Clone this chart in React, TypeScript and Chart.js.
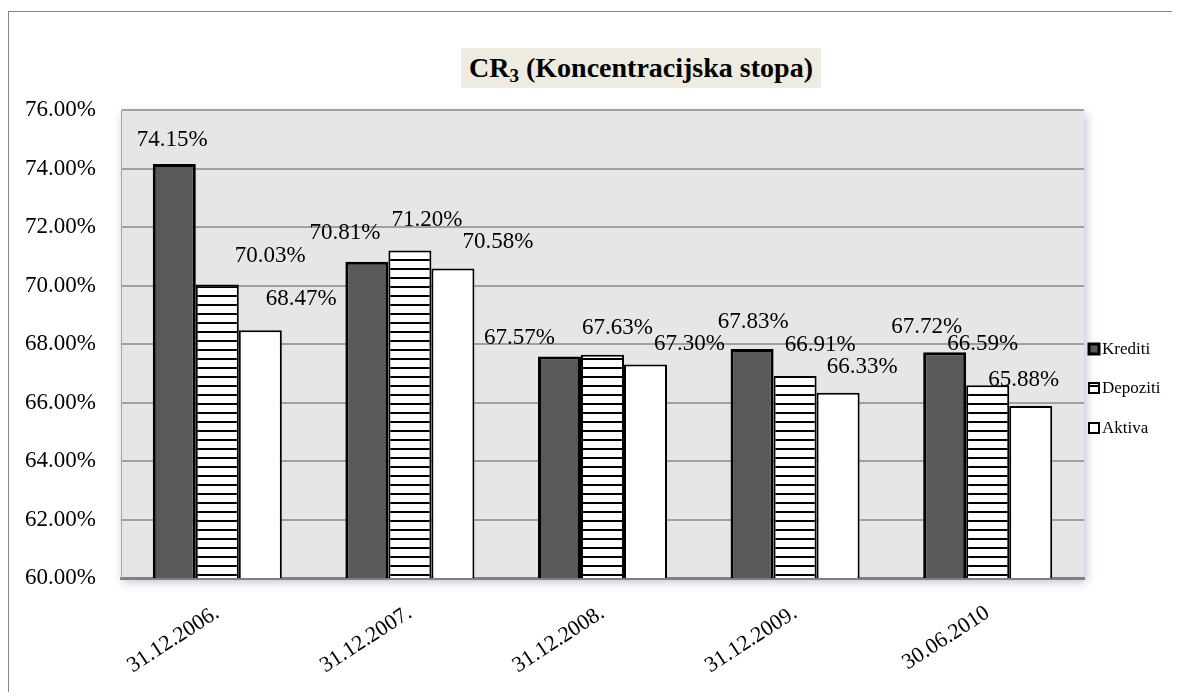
import React, { useEffect, useRef } from "react";
import { Chart, registerables } from "chart.js";

Chart.register(...registerables);

const categories = ["31.12.2006.", "31.12.2007.", "31.12.2008.", "31.12.2009.", "30.06.2010"];
const seriesNames = ["Krediti", "Depoziti", "Aktiva"];
const kreditiValues = [74.15, 70.81, 67.57, 67.83, 67.72];
const depozitiValues = [70.03, 71.2, 67.63, 66.91, 66.59];
const aktivaValues = [68.47, 70.58, 67.3, 66.33, 65.88];
const yTickValues = [60, 62, 64, 66, 68, 70, 72, 74, 76];

// label nudges (px) relative to each bar's top centre, as placed in the original
const kreditiLabelNudge = [[-2, -24], [-22, -29], [-40, -19], [1, -27], [-18, -25]];
const depozitiLabelNudge = [[53, -29], [17, -30], [15, -27], [25, -31], [-5, -41]];
const aktivaLabelNudge = [[41, -31], [45, -27], [44, -21], [24, -26], [-7, -26]];

const FONT = '"Liberation Serif", "Times New Roman", Times, serif';

function makeStripePattern(): CanvasPattern | string {
  const c = document.createElement("canvas");
  c.width = 9;
  c.height = 9;
  const g = c.getContext("2d");
  if (!g) return "#ffffff";
  g.fillStyle = "#ffffff";
  g.fillRect(0, 0, 9, 9);
  g.fillStyle = "#000000";
  g.fillRect(0, 4, 9, 2);
  const p = g.createPattern(c, "repeat");
  return p || "#ffffff";
}

export default function App() {
  const ref = useRef<HTMLCanvasElement | null>(null);

  useEffect(() => {
    const canvas = ref.current;
    if (!canvas) return;
    const stripes = makeStripePattern();
    const nudges = [kreditiLabelNudge, depozitiLabelNudge, aktivaLabelNudge];

    const plotBg = {
      id: "plotBg",
      beforeDraw(chart: any) {
        const { ctx, chartArea: a } = chart;
        ctx.save();
        ctx.shadowColor = "rgba(90, 70, 140, 0.35)";
        ctx.shadowBlur = 10;
        ctx.shadowOffsetX = 2;
        ctx.shadowOffsetY = 4;
        ctx.fillStyle = "#e6e6e6";
        ctx.fillRect(a.left, a.top, a.right - a.left, a.bottom - a.top);
        ctx.restore();
      },
    };

    const valueLabels = {
      id: "valueLabels",
      afterDatasetsDraw(chart: any) {
        const { ctx } = chart;
        ctx.save();
        ctx.font = `23px ${FONT}`;
        ctx.fillStyle = "#000000";
        ctx.textAlign = "center";
        ctx.textBaseline = "middle";
        chart.data.datasets.forEach((ds: any, di: number) => {
          const meta = chart.getDatasetMeta(di);
          meta.data.forEach((bar: any, i: number) => {
            const v = ds.data[i] as number;
            const [dx, dy] = nudges[di][i];
            ctx.fillText(v.toFixed(2) + "%", bar.x + dx, bar.y + dy);
          });
        });
        ctx.restore();
      },
    };

    const sideLegend = {
      id: "sideLegend",
      afterDraw(chart: any) {
        const { ctx, chartArea: a } = chart;
        ctx.save();
        ctx.font = `17px ${FONT}`;
        ctx.textBaseline = "middle";
        ctx.textAlign = "left";
        const offsets = [239, 278, 318];
        chart.data.datasets.forEach((ds: any, di: number) => {
          const cy = a.top + offsets[di];
          const bx = a.right + 5;
          const size = 10;
          ctx.fillStyle = ds.backgroundColor;
          ctx.fillRect(bx, cy - size / 2, size, size);
          ctx.lineWidth = di === 0 ? 3 : 2;
          ctx.strokeStyle = "#000000";
          ctx.strokeRect(bx, cy - size / 2, size, size);
          ctx.fillStyle = "#000000";
          ctx.fillText(ds.label, bx + 13, cy + 1);
        });
        ctx.restore();
      },
    };

    const chart = new Chart(canvas, {
      type: "bar",
      data: {
        labels: categories,
        datasets: [
          {
            label: seriesNames[0],
            data: kreditiValues,
            backgroundColor: "#595959",
            borderColor: "#000000",
            borderWidth: 3,
          },
          {
            label: seriesNames[1],
            data: depozitiValues,
            backgroundColor: stripes as any,
            borderColor: "#000000",
            borderWidth: 2,
          },
          {
            label: seriesNames[2],
            data: aktivaValues,
            backgroundColor: "#ffffff",
            borderColor: "#000000",
            borderWidth: 2,
          },
        ],
      },
      options: {
        responsive: false,
        animation: false,
        devicePixelRatio: 1,
        layout: { padding: { top: 98, right: 96, bottom: 0, left: 0 } },
        datasets: {
          bar: { categoryPercentage: 0.67, barPercentage: 1.0 },
        },
        plugins: {
          legend: { display: false },
          title: { display: false },
          tooltip: { enabled: false },
        },
        scales: {
          x: {
            grid: { display: false, drawTicks: false },
            border: { display: true, color: "#808080", width: 3 },
            ticks: {
              color: "#000000",
              font: { family: FONT, size: 22 },
              minRotation: 33,
              maxRotation: 33,
              padding: 22,
            },
            afterFit: (scale: any) => {
              scale.height = 114;
            },
          },
          y: {
            min: 60,
            max: 76,
            afterBuildTicks: (scale: any) => {
              scale.ticks = yTickValues.map((v) => ({ value: v }));
            },
            grid: { color: "#a0a0a0", lineWidth: 2, drawTicks: false },
            border: { display: true, color: "#a6a6a6", width: 1 },
            ticks: {
              color: "#000000",
              font: { family: FONT, size: 23 },
              padding: 25,
              callback: (v: any) => Number(v).toFixed(2) + "%",
            },
            afterFit: (scale: any) => {
              scale.width = 112;
            },
          },
        },
      },
      plugins: [plotBg, valueLabels, sideLegend],
    });

    return () => chart.destroy();
  }, []);

  return (
    <div
      style={{
        position: "relative",
        marginTop: 3,
        width: 1171,
        height: 680,
        borderTop: "1px solid #858585",
        borderLeft: "1px solid #858585",
        background: "#ffffff",
      }}
    >
      <canvas
        ref={ref}
        width={1171}
        height={680}
        style={{ position: "absolute", left: 0, top: 0, width: 1171, height: 680 }}
      />
      <div
        style={{
          position: "absolute",
          left: 452,
          top: 36,
          width: 360,
          height: 40,
          background: "#eeece1",
          fontFamily: FONT,
          fontWeight: "bold",
          fontSize: 28,
          lineHeight: "40px",
          textAlign: "center",
          color: "#000000",
          whiteSpace: "nowrap",
        }}
      >
        CR<sub style={{ fontSize: 19, verticalAlign: "-5px", lineHeight: 0 }}>3</sub> (Koncentracijska stopa)
      </div>
    </div>
  );
}
